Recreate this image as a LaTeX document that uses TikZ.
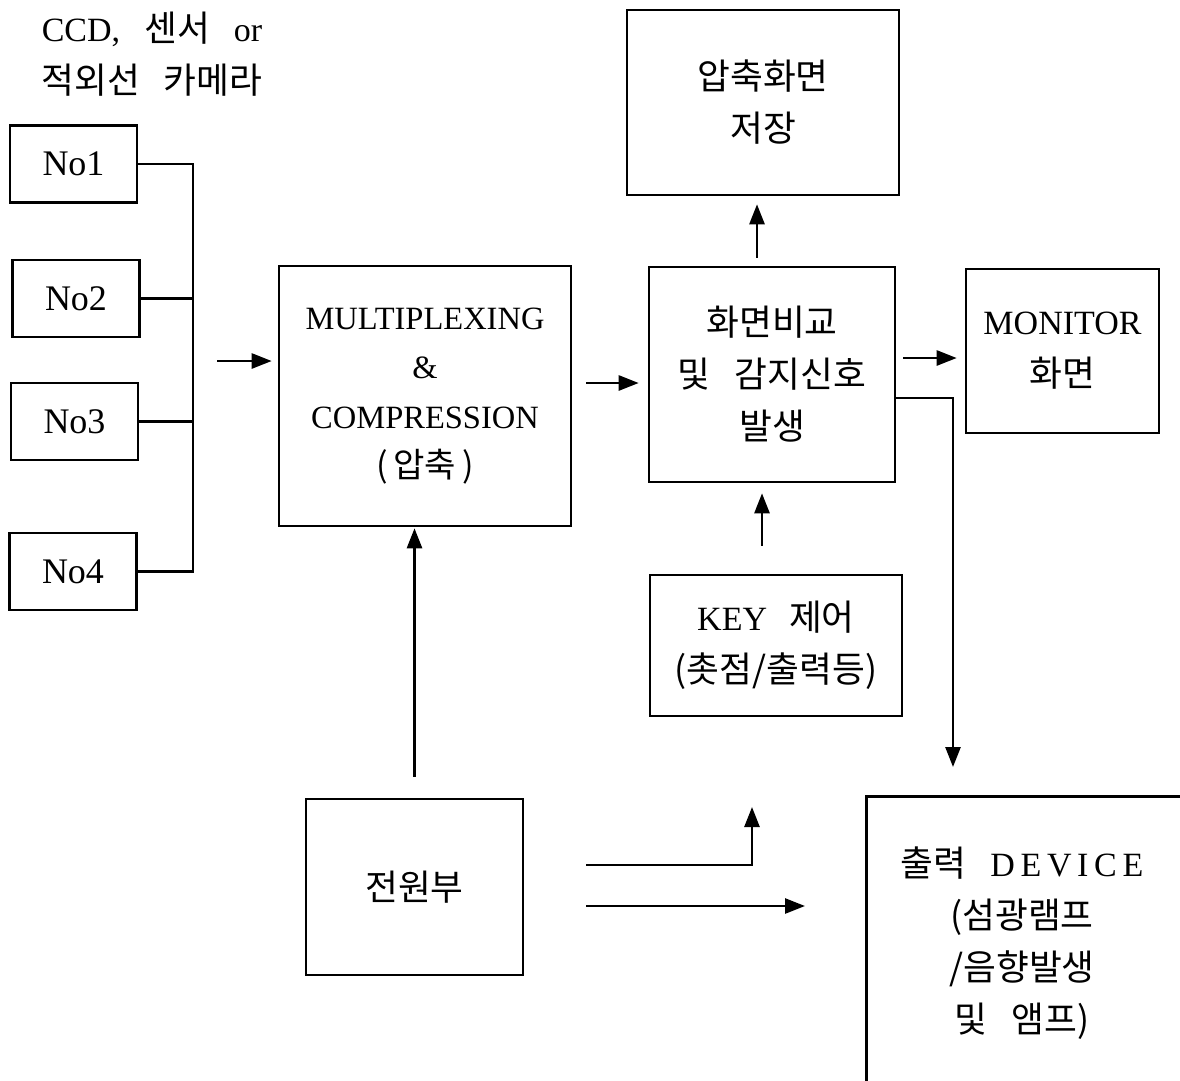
\documentclass[tikz,border=0pt]{standalone}
\usepackage{fontspec}
\setmainfont{Liberation Serif}
\newfontfamily\kr[Scale=1.05]{Noto Sans CJK KR}
\usetikzlibrary{arrows.meta}
\newcommand\gapw{\hspace*{24pt}}
\begin{document}
\begin{tikzpicture}[x=1pt,y=-1pt,
  every node/.style={inner sep=0pt, align=center, font=\fontsize{34}{52}\selectfont},
  box/.style={draw, line width=2.6pt},
  wire/.style={line width=2.6pt},
  arr/.style={line width=2.6pt, -{Triangle[length=20pt,width=15pt]}}]
\useasboundingbox (0,0) rectangle (1180,1080);
\fill[white] (0,0) rectangle (1180,1080);
\clip (0,0) rectangle (1180,1080);

% caption over the camera inputs
\node (cam) at (152,54) {CCD,\gapw{\kr 센서}\gapw or\\{\kr 적외선\gapw 카메라}};

% camera inputs
\begin{scope}[every node/.append style={box, font=\fontsize{36}{52}\selectfont, minimum width=127pt, minimum height=77pt}]
  \node (no1) at (73.5,164) {No1};
  \node (no2) at (76,298.5) {No2};
  \node (no3) at (74.5,421.5) {No3};
  \node (no4) at (73,571.5) {No4};
\end{scope}

% processing blocks
\node[box, font=\fontsize{32.5}{49.5}\selectfont, minimum width=292pt, minimum height=260pt] (mux) at (425,396)
  {MULTIPLEXING\\\&\\COMPRESSION\\{\kr (\,압축\,)}};
\node[box, font=\fontsize{34}{52}\selectfont\kr, minimum width=246pt, minimum height=215pt] (cmp) at (772,374.5)
  {화면비교\\및\gapw 감지신호\\발생};
\node[box, font=\fontsize{34}{52}\selectfont\kr, minimum width=272pt, minimum height=185pt] (store) at (763,102.5)
  {압축화면\\저장};
\node[box, minimum width=193pt, minimum height=164pt] (mon) at (1062.5,351)
  {MONITOR\\{\kr 화면}};
\node[box, minimum width=252pt, minimum height=141pt] (key) at (776,645.5)
  {KEY\hspace*{22pt}{\kr 제어}\\{\kr (촛점/출력등)}};
\node[box, font=\fontsize{34}{52}\selectfont\kr, minimum width=217pt, minimum height=176pt] (pwr) at (414.5,887)
  {전원부};

% output device (runs past the page edge)
\node[box, anchor=north west, minimum width=360pt, minimum height=330pt] (out) at (865,795) {};
\node (outtxt) at (1022,943)
  {{\kr 출력}\gapw D\,E\,V\,I\,C\,E\\{\kr (섬광램프}\\{\kr /음향발생}\\{\kr 및\gapw 앰프)}};

% camera bus
\coordinate (busTop) at (193,164);
\draw[wire] (no1.east) -- (busTop) -- (busTop |- no4.east) -- (no4.east);
\draw[wire] (no2.east) -- (no2.east -| busTop);
\draw[wire] (no3.east) -- (no3.east -| busTop);

% signal flow
\coordinate (muxIn) at (217,361);
\draw[arr, shorten >=6pt] (muxIn) -- (muxIn -| mux.west);
\draw[arr, shorten <=14pt, shorten >=9pt] ([yshift=13pt]mux.east) -- ([yshift=13pt]mux.east -| cmp.west);
\draw[arr, shorten <=8pt, shorten >=8pt] ([xshift=-15pt]cmp.north) -- ([xshift=-15pt]cmp.north |- store.south);
\draw[arr, shorten <=7pt, shorten >=8pt] ([yshift=16.5pt]cmp.east) -- ([yshift=16.5pt]cmp.east -| mon.west);
\coordinate (drop) at (953,0);
\draw[arr, shorten >=28pt] ([yshift=-23.5pt]cmp.east) -| (drop |- out.north);
\draw[arr, shorten <=28pt, shorten >=10pt] ([xshift=-14pt]key.north) -- ([xshift=-14pt]key.north |- cmp.south);

% power distribution
\draw[arr, shorten <=21pt, shorten >=1pt] (pwr.north) -- (pwr.north |- mux.south);
\coordinate (upEnd) at (752,807);
\draw[arr, shorten <=62pt] ([yshift=22pt]pwr.east) -| (upEnd);
\draw[arr, shorten <=62pt, shorten >=60pt] ([yshift=-19pt]pwr.east) -- ([yshift=-19pt]pwr.east -| out.west);
\end{tikzpicture}
\end{document}
